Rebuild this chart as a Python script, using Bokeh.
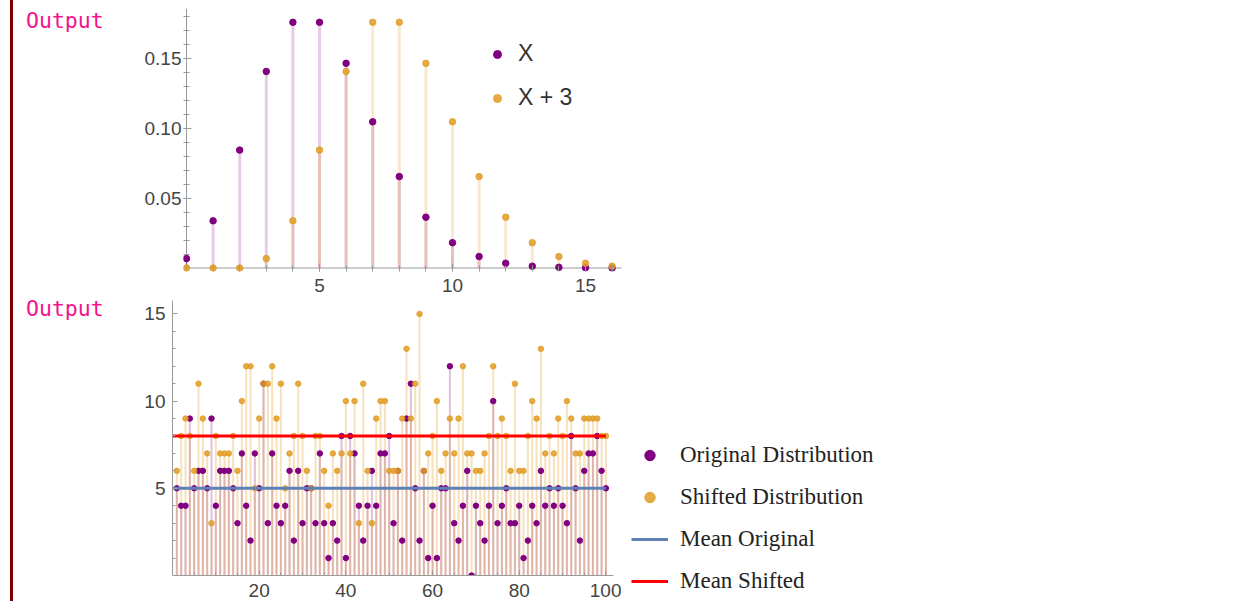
from bokeh.plotting import figure
from bokeh.models import Range1d, FixedTicker, NumeralTickFormatter, Legend, LegendItem, Div, Span
from bokeh.layouts import row, column
from bokeh.embed import file_html
from bokeh.resources import INLINE

# ---------------- data: top chart (probabilities of X and X + 3) ----------------
k_values = list(range(17))
prob_x = [0.0067, 0.0337, 0.0842, 0.1404, 0.1755, 0.1755, 0.1462, 0.1044, 0.0653,
          0.0363, 0.0181, 0.0082, 0.0034, 0.0013, 0.0005, 0.0002, 0.0000]
prob_x_plus_3 = [0.0, 0.0, 0.0, 0.0067, 0.0337, 0.0842, 0.1404, 0.1755, 0.1755,
                 0.1462, 0.1044, 0.0653, 0.0363, 0.0181, 0.0082, 0.0034, 0.0013]
top_legend_labels = ["X", "X + 3"]

# ---------------- data: bottom chart (samples) ----------------
sample_index = list(range(1, 101))
original_sample = [5, 4, 4, 9, 5, 6, 6, 5, 9, 4,
                   6, 6, 6, 5, 3, 7, 4, 2, 7, 5,
                   11, 3, 7, 4, 3, 4, 6, 2, 6, 3,
                   5, 5, 3, 7, 3, 1, 3, 2, 8, 1,
                   8, 7, 4, 2, 4, 6, 4, 7, 7, 8,
                   3, 6, 2, 9, 11, 5, 2, 6, 1, 4,
                   1, 5, 5, 12, 3, 2, 4, 6, 0, 4,
                   3, 2, 4, 10, 3, 4, 5, 3, 3, 4,
                   1, 2, 4, 3, 6, 4, 5, 4, 5, 4,
                   3, 8, 5, 2, 6, 7, 7, 8, 6, 5]
shifted_sample = [6, 8, 9, 8, 6, 11, 9, 7, 3, 8,
                  7, 7, 7, 8, 6, 10, 12, 12, 5, 9,
                  11, 11, 12, 9, 11, 5, 7, 8, 11, 8,
                  6, 5, 8, 8, 6, 4, 7, 6, 7, 10,
                  7, 10, 3, 11, 6, 3, 9, 10, 10, 6,
                  6, 6, 9, 13, 9, 11, 15, 6, 7, 8,
                  10, 6, 7, 9, 7, 9, 12, 7, 7, 6,
                  6, 7, 8, 12, 8, 9, 8, 6, 11, 6,
                  6, 8, 10, 9, 13, 7, 8, 7, 9, 8,
                  10, 9, 7, 7, 9, 9, 9, 9, 8, 8]
mean_x_span = [0, 100]
mean_original = 5
mean_shifted = 8
bottom_legend_labels = ["Original Distribution", "Shifted Distribution", "Mean Original", "Mean Shifted"]

PURPLE = "#800080"
ORANGE = "#E19C24"
BLUE = "#5E81B5"
RED = "#FF0000"
AXIS_COL = "#9a9a9a"
TICK_FONT = "Liberation Sans"


def style_axis(ax, standoff, tin, tmin, show_line=True):
    ax.axis_line_color = AXIS_COL if show_line else None
    ax.major_tick_line_color = AXIS_COL
    ax.minor_tick_line_color = AXIS_COL
    ax.major_tick_in = tin
    ax.major_tick_out = 0
    ax.minor_tick_in = tmin
    ax.minor_tick_out = 0
    ax.major_label_text_font = TICK_FONT
    ax.major_label_text_font_size = "19px"
    ax.major_label_text_color = "#444444"
    ax.major_label_standoff = standoff


def clean(p):
    p.xgrid.visible = False
    p.ygrid.visible = False
    p.outline_line_color = None
    p.background_fill_color = "white"
    p.border_fill_color = "white"


def output_div(h, pad, lh):
    html = ('<div style="margin-left:10px;border-left:3px solid #800000;height:%dpx;'
            'box-sizing:border-box;padding-left:13px;padding-top:%dpx;'
            'font-family:\'DejaVu Sans Mono\',monospace;'
            'font-size:21.5px;line-height:%dpx;color:#F5138A;">Output</div>') % (h, pad, lh)
    return Div(text=html, width=120, height=h, margin=0)


TOP_H = 300
BOT_H = 301

# ---------------- top figure ----------------
p1 = figure(width=511, height=TOP_H,
            x_range=Range1d(-0.1128, 16.353), y_range=Range1d(-0.0025, 0.18536),
            output_backend="svg", toolbar_location=None,
            min_border_left=63, min_border_right=10, min_border_top=8, min_border_bottom=29)
clean(p1)
p1.add_layout(Span(location=0, dimension="height", line_color=AXIS_COL, line_width=1, level="underlay"))
p1.add_layout(Span(location=0, dimension="width", line_color=AXIS_COL, line_width=1, level="underlay"))

p1.segment(x0=k_values, y0=[0] * len(k_values), x1=k_values, y1=prob_x,
           line_color=PURPLE, line_alpha=0.2, line_width=3)
p1.segment(x0=k_values, y0=[0] * len(k_values), x1=k_values, y1=prob_x_plus_3,
           line_color=ORANGE, line_alpha=0.22, line_width=3)
r_x = p1.scatter(k_values, prob_x, size=6.5, color=PURPLE)
r_x3 = p1.scatter(k_values, prob_x_plus_3, size=6.5, color=ORANGE, alpha=0.85)

xa1 = p1.xaxis[0]
style_axis(xa1, 7, 8, 6, show_line=False)
xa1.ticker = FixedTicker(ticks=[5, 10, 15], minor_ticks=list(range(1, 17)))
ya1 = p1.yaxis[0]
style_axis(ya1, 2, 8, 6, show_line=False)
ya1.ticker = FixedTicker(ticks=[0.05, 0.10, 0.15],
                         minor_ticks=[i / 100 for i in range(1, 19)])
ya1.formatter = NumeralTickFormatter(format="0.00")

leg1 = Legend(items=[LegendItem(label=top_legend_labels[0], renderers=[r_x]),
                     LegendItem(label=top_legend_labels[1], renderers=[r_x3])],
              location=(304, 160), orientation="vertical",
              border_line_color=None, background_fill_alpha=0, padding=0, margin=0,
              spacing=17, glyph_width=20, glyph_height=26, label_height=26, label_standoff=11,
              label_text_font="Liberation Sans", label_text_font_size="23px",
              label_text_color="#333333")
p1.add_layout(leg1)

# ---------------- bottom figure ----------------
p2 = figure(width=501, height=BOT_H,
            x_range=Range1d(0, 101.75), y_range=Range1d(0, 15.77),
            output_backend="svg", toolbar_location=None,
            min_border_left=52, min_border_right=8, min_border_top=0, min_border_bottom=26)
clean(p2)

p2.segment(x0=sample_index, y0=[0] * 100, x1=sample_index, y1=original_sample,
           line_color=PURPLE, line_alpha=0.25, line_width=2)
p2.segment(x0=sample_index, y0=[0] * 100, x1=sample_index, y1=shifted_sample,
           line_color=ORANGE, line_alpha=0.3, line_width=2)
p2.scatter(sample_index, original_sample, size=5.5, color=PURPLE)
p2.scatter(sample_index, shifted_sample, size=5.5, color=ORANGE, alpha=0.85)
p2.line(mean_x_span, [mean_original] * 2, line_color=BLUE, line_width=3)
p2.line(mean_x_span, [mean_shifted] * 2, line_color=RED, line_width=3)

xa2 = p2.xaxis[0]
style_axis(xa2, 8, 5, 3)
xa2.ticker = FixedTicker(ticks=[20, 40, 60, 80, 100], minor_ticks=list(range(5, 101, 5)))
ya2 = p2.yaxis[0]
style_axis(ya2, 7, 5, 3)
ya2.ticker = FixedTicker(ticks=[5, 10, 15], minor_ticks=list(range(1, 16)))

# ---------------- legend panel for the bottom chart ----------------
# swatch renderers sit outside this panel's visible range; only their legend keys show
p3 = figure(width=620, height=BOT_H, x_range=Range1d(0, 1), y_range=Range1d(0, 1),
            output_backend="svg", toolbar_location=None,
            x_axis_location=None, y_axis_location=None,
            min_border_left=0, min_border_right=0, min_border_top=0, min_border_bottom=0)
p3.frame_align = False
clean(p3)
off = [-5, -4]
l_orig = p3.scatter(x=off, y=off, size=5.5, color=PURPLE)
l_shift = p3.scatter(x=off, y=off, size=5.5, color=ORANGE, alpha=0.85)
l_mo = p3.line(x=off, y=off, line_color=BLUE, line_width=3)
l_ms = p3.line(x=off, y=off, line_color=RED, line_width=3)
leg2 = Legend(items=[LegendItem(label=bottom_legend_labels[0], renderers=[l_orig]),
                     LegendItem(label=bottom_legend_labels[1], renderers=[l_shift]),
                     LegendItem(label=bottom_legend_labels[2], renderers=[l_mo]),
                     LegendItem(label=bottom_legend_labels[3], renderers=[l_ms])],
              location=(10, 7), orientation="vertical",
              border_line_color=None, background_fill_alpha=0, padding=0, margin=0,
              spacing=16, glyph_width=37, glyph_height=26, label_height=26, label_standoff=12,
              label_text_font="Liberation Serif", label_text_font_size="23px",
              label_text_color="#222222")
p3.add_layout(leg2)

layout = column(row(output_div(TOP_H, 8, 26), p1),
                row(output_div(BOT_H, 0, 18), p2, p3))

open("out.html", "w").write(file_html(layout, INLINE))
